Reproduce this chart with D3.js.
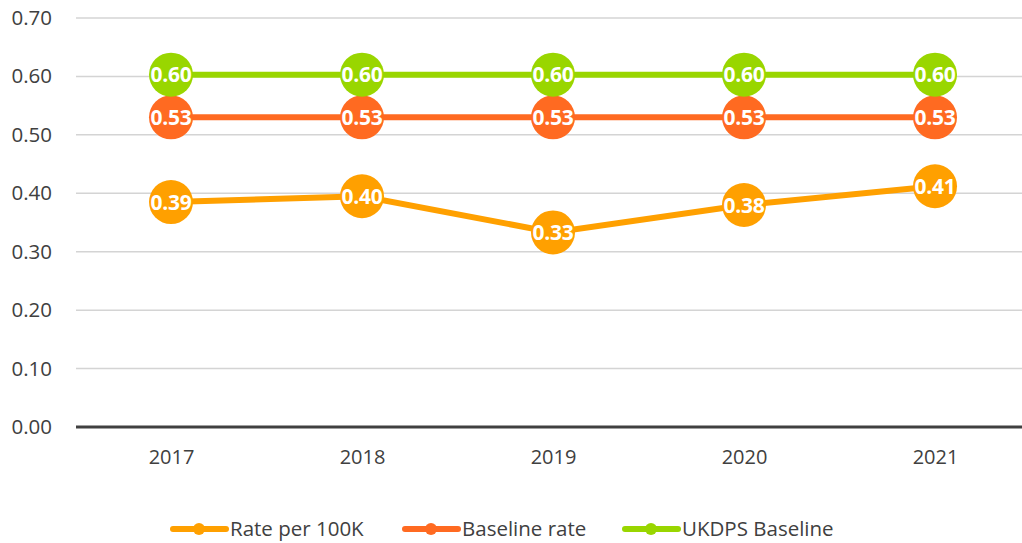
<!DOCTYPE html>
<html><head><meta charset="utf-8">
<script src="https://cdn.jsdelivr.net/npm/d3@7"></script>
<style>body{margin:0;background:#fff}svg{display:block}</style>
</head><body><svg id="c" width="1022" height="543"></svg>
<script>
const years = ["2017","2018","2019","2020","2021"];
const rate = [0.385, 0.395, 0.333, 0.380, 0.412];
const baseline = [0.53, 0.53, 0.53, 0.53, 0.53];
const ukdps = [0.603, 0.603, 0.603, 0.603, 0.603];
const yTicks = [0, 0.1, 0.2, 0.3, 0.4, 0.5, 0.6, 0.7];
const seriesNames = ["Rate per 100K", "Baseline rate", "UKDPS Baseline"];
const colors = ["#FFA000", "#FF6A21", "#99D600"];

const svg = d3.select("#c");
const font = "'Open Sans', sans-serif";
const x = d3.scalePoint().domain(years).range([171, 935]);
const y = d3.scaleLinear().domain([0, 0.7]).range([427, 18]);

// gridlines
svg.append("g").selectAll("line").data(yTicks.slice(1)).join("line")
  .attr("x1", 76).attr("x2", 1022).attr("y1", d => y(d)).attr("y2", d => y(d))
  .attr("stroke", "#d4d4d4").attr("stroke-width", 1.5);

// y axis labels
const ya = svg.append("g").attr("transform", "translate(52,0)")
  .call(d3.axisLeft(y).tickValues(yTicks).tickFormat(d3.format(".2f")).tickSize(0).tickPadding(0));
ya.select(".domain").remove();
ya.selectAll("text").attr("font-family", font).attr("font-size", 20.5).attr("fill", "#404040");

// baseline axis
svg.append("line").attr("x1", 76).attr("x2", 1022).attr("y1", y(0)).attr("y2", y(0))
  .attr("stroke", "#404040").attr("stroke-width", 3);

// x axis labels
const xa = svg.append("g").attr("transform", `translate(0,${y(0)})`)
  .call(d3.axisBottom(x).tickSize(0).tickPadding(23));
xa.select(".domain").remove();
xa.selectAll("text").attr("font-family", font).attr("font-size", 20).attr("fill", "#404040");

const all = [rate, baseline, ukdps];
const line = d3.line().x((d, i) => x(years[i])).y(d => y(d));
all.forEach((s, k) => {
  const g = svg.append("g");
  g.append("path").datum(s).attr("d", line).attr("fill", "none")
    .attr("stroke", colors[k]).attr("stroke-width", 6);
  g.selectAll("circle").data(s).join("circle")
    .attr("cx", (d, i) => x(years[i])).attr("cy", d => y(d)).attr("r", 22)
    .attr("fill", colors[k]);
  g.selectAll("text").data(s).join("text")
    .attr("x", (d, i) => x(years[i])).attr("y", d => y(d)).attr("dy", "0.36em")
    .attr("text-anchor", "middle").attr("font-family", font).attr("font-weight", "bold")
    .attr("font-size", 21).attr("letter-spacing", -0.3).attr("fill", "#fff").text(d => d3.format(".2f")(d));
});

// legend
const legX = [171, 403, 623];
const lg = svg.append("g");
seriesNames.forEach((n, k) => {
  const gx = legX[k], gy = 529;
  lg.append("line").attr("x1", gx + 2).attr("x2", gx + 55).attr("y1", gy).attr("y2", gy)
    .attr("stroke", colors[k]).attr("stroke-width", 6).attr("stroke-linecap", "round");
  lg.append("circle").attr("cx", gx + 28).attr("cy", gy).attr("r", 6).attr("fill", colors[k]);
  lg.append("text").attr("x", gx + 59).attr("y", gy).attr("dy", "0.36em")
    .attr("font-family", font).attr("font-size", 20.5).attr("fill", "#404040").text(n);
});
</script></body></html>
